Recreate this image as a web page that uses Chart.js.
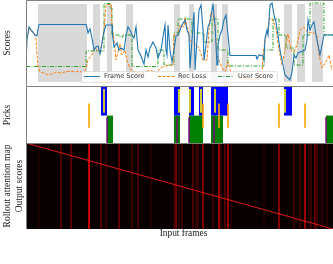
<!DOCTYPE html>
<html>
<head>
<meta charset="utf-8">
<script src="https://cdn.jsdelivr.net/npm/chart.js@4"></script>
<style>
  html, body { margin: 0; padding: 0; background: #fff; overflow: hidden; }
  canvas { position: absolute; left: 0; }
</style>
</head>
<body>
<canvas id="scores" width="333" height="86" style="top:0px"></canvas>
<canvas id="picks" width="333" height="58" style="top:86px"></canvas>
<!-- runs 8px past the window so the x title lands where the reference has it -->
<canvas id="attention" width="341" height="96" style="top:143px"></canvas>
<script>
const TOTAL_FRAMES = 307;

// top panel
const frameX = [0,1,3,5,7,9,11,12,13,60,61,62,64,66,68,70,72,74,76,77,79,80,86,86.5,88,91,93,95,98,100,102,104,106,108,110,112,115,118,120,122,124,127,130,132,135,137,139,140,141,142,144,146,148,150,152,154,156,159,161,163,164,166,168,169,171,173,175,177,178,180,182,184,186,187,189,191,192,194,196,198,200,202,203,204,230,231,233,237,238,239,241,242,244,246,248,250,252,254,257,259,262,264,266,268,270,272,279,281,282,284,286,288,290,292,294,296,298,300,307];
const frameScore = [20,42,55,52,50,47,46,53,57.5,57.5,54,49,53,44,32,35,36,28,39,46,54,57,57,47,35,39,32,34,32,46,55,52,47,44,55,32,26,18,32,25,34,40,34,24,32,45,57,32,27,57,32,20,32,46,47,52,57,62,52,47,14,42,70,12,42,72,77,52,22,37,55,60,72,77,57,17,37,47,52,62,67,47,37,26.5,26.5,23,27,26,22,44,52,47,77,79,67,60,47,32,17,7,4,2,10,27,24,29,32,42,62,52,57,60,47,37,27,37,47,47,47];

const recX = [0,2,4,6,8,10,11,12,14,18,22,26,30,34,39,44,49,54,58,60,62,66,69,73,76,78,80,85,86,88,90,92,94,96,99,101,103,105,109,114,119,124,130,135,139,147,148,152,154,158,159,162,164,170,173,177,181,183,185,187,189,191,193,196,199,202,204,209,219,229,236,237,239,241,244,247,250,253,256,259,262,265,268,271,274,278,282,287,291,293,296,300,303,306];
const recLoss = [44,48,54,50,49,44,27,16,10,9,7,8,10,9,10,11,10,11,7,14,22,27,34,30,38,52,77,78,57,42,22,30,38,27,32,22,16,12,10,9,10,12,9,14,16,17,47,47,57,55,65,52,42,37,34,22,22,52,70,68,57,27,22,14,10,20,12,7,3,2,4,27,42,49,64,62,54,32,17,32,48,32,30,37,52,55,49,50,46,27,14,20,27,12];

const userX = [0,60,78,84,86,94,97,106,132,138,148,152,166,178,186,192,202,238,247,253,260,268,277,284,298,307];
const userScore = [15.5,31,78.5,74,47,45,47,15.5,32,17,49,63,49,40,63,32,16,32,63,47,34,17,47,79,47,47];

const segmentStarts = [12,67,81,100,148,163,185,196,258,271,286];
const segmentEnds = [61,74,86,107,154,168,191,202,266,279,297];

// middle panel
const blueStarts = [75,148,163,173,185,258];
const blueEnds = [81,154,168,177,202,266];
const greenStarts = [81,148,163,185,300];
const greenEnds = [87,154,177,197,307];
const yellowFrames = [78,153,164,175,189,259];
const purpleFrames = [81,151,163,188,300];
const orangeFrames = [63,177,193,202,253,279];

// bottom panel
const streakFrames = [13,35,45,63,75,80,93,106,112,125,148,150,153,156,167,170,172,177,187,193,195,199,202,205,238,253,268,274,279,283,285,289,291,296,301];
const streakLevels = [.12,.35,.4,.95,.42,.22,.45,.25,.3,.14,.2,.55,.18,.25,.32,.18,.25,.62,.25,.75,.2,.35,.72,.15,.12,.65,.25,.25,.75,.15,.25,.45,.25,.2,.18];
const outputScoreX = [0,307];
const outputScoreY = [0,86];

const pairs = (xs, ys) => xs.map((x, i) => ({ x: x, y: ys[i] }));

// filled boxes, one run of points per start/end with a gap between them
function boxes(starts, ends, lo, hi) {
  const pts = [];
  starts.forEach((s, i) => {
    pts.push({ x: s, y: lo }, { x: s, y: hi }, { x: ends[i], y: hi }, { x: ends[i], y: lo }, { x: ends[i], y: null });
  });
  return pts;
}

function ticks(frames, lo, hi) {
  const pts = [];
  frames.forEach(f => {
    pts.push({ x: f, y: lo }, { x: f, y: hi }, { x: f, y: null });
  });
  return pts;
}

const spines = {
  id: 'spines',
  afterDatasetsDraw(chart) {
    const { ctx, chartArea: a } = chart;
    ctx.save();
    ctx.strokeStyle = '#808080';
    ctx.lineWidth = 1;
    ctx.beginPath();
    ctx.moveTo(a.left + 0.5, a.bottom);
    ctx.lineTo(a.left + 0.5, a.top + 0.5);
    ctx.lineTo(a.right, a.top + 0.5);
    ctx.stroke();
    ctx.restore();
  }
};

// same look as the box the reference has, sitting over the lines
const floatingLegend = {
  id: 'floatingLegend',
  afterDatasetsDraw(chart) {
    const { ctx } = chart;
    const items = [
      { ds: chart.data.datasets[0], x: 84 },
      { ds: chart.data.datasets[1], x: 158 },
      { ds: chart.data.datasets[2], x: 218 }
    ];
    ctx.save();
    ctx.beginPath();
    ctx.roundRect(81.5, 71.5, 196, 11, 1.5);
    ctx.fillStyle = 'rgba(255,255,255,0.8)';
    ctx.fill();
    ctx.strokeStyle = 'rgba(204,204,204,0.8)';
    ctx.lineWidth = 0.7;
    ctx.stroke();
    ctx.font = '6.5px "DejaVu Sans"';
    ctx.textBaseline = 'middle';
    items.forEach(it => {
      ctx.strokeStyle = it.ds.borderColor;
      ctx.lineWidth = 1;
      ctx.setLineDash(it.ds.borderDash || []);
      ctx.beginPath();
      ctx.moveTo(it.x, 76.5);
      ctx.lineTo(it.x + 16, 76.5);
      ctx.stroke();
      ctx.setLineDash([]);
      ctx.fillStyle = '#333';
      ctx.fillText(it.ds.label, it.x + 20, 76.5);
    });
    ctx.restore();
  }
};

function baseOptions(yMin, yMax, title) {
  return {
    responsive: false,
    animation: false,
    devicePixelRatio: 1,
    layout: { padding: 0 },
    plugins: { legend: { display: false }, tooltip: { enabled: false } },
    elements: { point: { radius: 0 }, line: { tension: 0 } },
    scales: {
      x: { type: 'linear', display: false, min: 0, max: TOTAL_FRAMES },
      y: {
        min: yMin, max: yMax,
        grid: { display: false },
        border: { display: false },
        ticks: { display: false },
        afterFit(scale) { scale.width = 26; },
        title: {
          display: true, text: title, color: '#222',
          font: { family: '"Liberation Serif"', size: 9.5, lineHeight: 1.25 },
          padding: { top: 2, bottom: 0 }
        }
      }
    }
  };
}

new Chart(document.getElementById('scores').getContext('2d'), {
  type: 'line',
  data: {
    datasets: [
      { label: 'Frame Score', data: pairs(frameX, frameScore), borderColor: '#1f77b4', borderWidth: 1.1 },
      { label: 'Rec Loss', data: pairs(recX, recLoss), borderColor: '#ff7f0e', borderWidth: 1, borderDash: [3, 1.5] },
      { label: 'User Score', data: pairs(userX, userScore), borderColor: '#2ca02c', borderWidth: 1, borderDash: [4, 1.5, 1, 1.5], stepped: true },
      { label: 'Segments', data: boxes(segmentStarts, segmentEnds, 0, 78), borderWidth: 0, backgroundColor: '#d9d9d9', fill: { value: 0 } }
    ]
  },
  options: baseOptions(-4, 82, 'Scores'),
  plugins: [spines, floatingLegend]
});

new Chart(document.getElementById('picks').getContext('2d'), {
  type: 'line',
  data: {
    datasets: [
      { label: 'Orange', data: ticks(orangeFrames, 0.28, 0.7), borderColor: '#ffa500', borderWidth: 1.6 },
      { label: 'Yellow', data: ticks(yellowFrames, 0.54, 0.95), borderColor: '#ffff00', borderWidth: 1.6 },
      { label: 'Purple', data: ticks(purpleFrames, 0.02, 0.46), borderColor: '#800080', borderWidth: 1.4 },
      { label: 'Blue', data: boxes(blueStarts, blueEnds, 0.49, 1), borderWidth: 0, backgroundColor: '#0000ff', fill: { value: 0.49 } },
      { label: 'Green', data: boxes(greenStarts, greenEnds, 0, 0.49), borderWidth: 0, backgroundColor: '#008000', fill: { value: 0 } }
    ]
  },
  options: baseOptions(0, 1, 'Picks'),
  plugins: [spines]
});

const streakSets = streakFrames.map((f, i) => ({
  label: 'Frame ' + f,
  data: ticks([f], 0, 86),
  borderColor: 'rgb(' + Math.round(streakLevels[i] * 255) + ',0,0)',
  borderWidth: streakLevels[i] > 0.4 ? 1.6 : 1
}));

const attentionOptions = baseOptions(0, 86, ['Rollout attention map', 'Output scores']);
attentionOptions.scales.y.reverse = true;
attentionOptions.scales.x = {
  type: 'linear', min: 0, max: TOTAL_FRAMES + 8,
  grid: { display: false },
  border: { display: false },
  ticks: { display: false },
  afterFit(scale) { scale.height = 10; },
  title: {
    display: true, text: 'Input frames', color: '#222',
    font: { family: '"Liberation Serif"', size: 9.4 },
    padding: 0
  }
};

new Chart(document.getElementById('attention').getContext('2d'), {
  type: 'line',
  data: {
    datasets: [
      { label: 'Output scores', data: pairs(outputScoreX, outputScoreY), borderColor: '#e01818', borderWidth: 1 },
      ...streakSets,
      { label: 'Map', data: boxes([0], [TOTAL_FRAMES], 0, 86), borderWidth: 0, backgroundColor: '#080000', fill: { value: 0 } }
    ]
  },
  options: attentionOptions,
  plugins: [spines]
});
</script>
</body>
</html>
